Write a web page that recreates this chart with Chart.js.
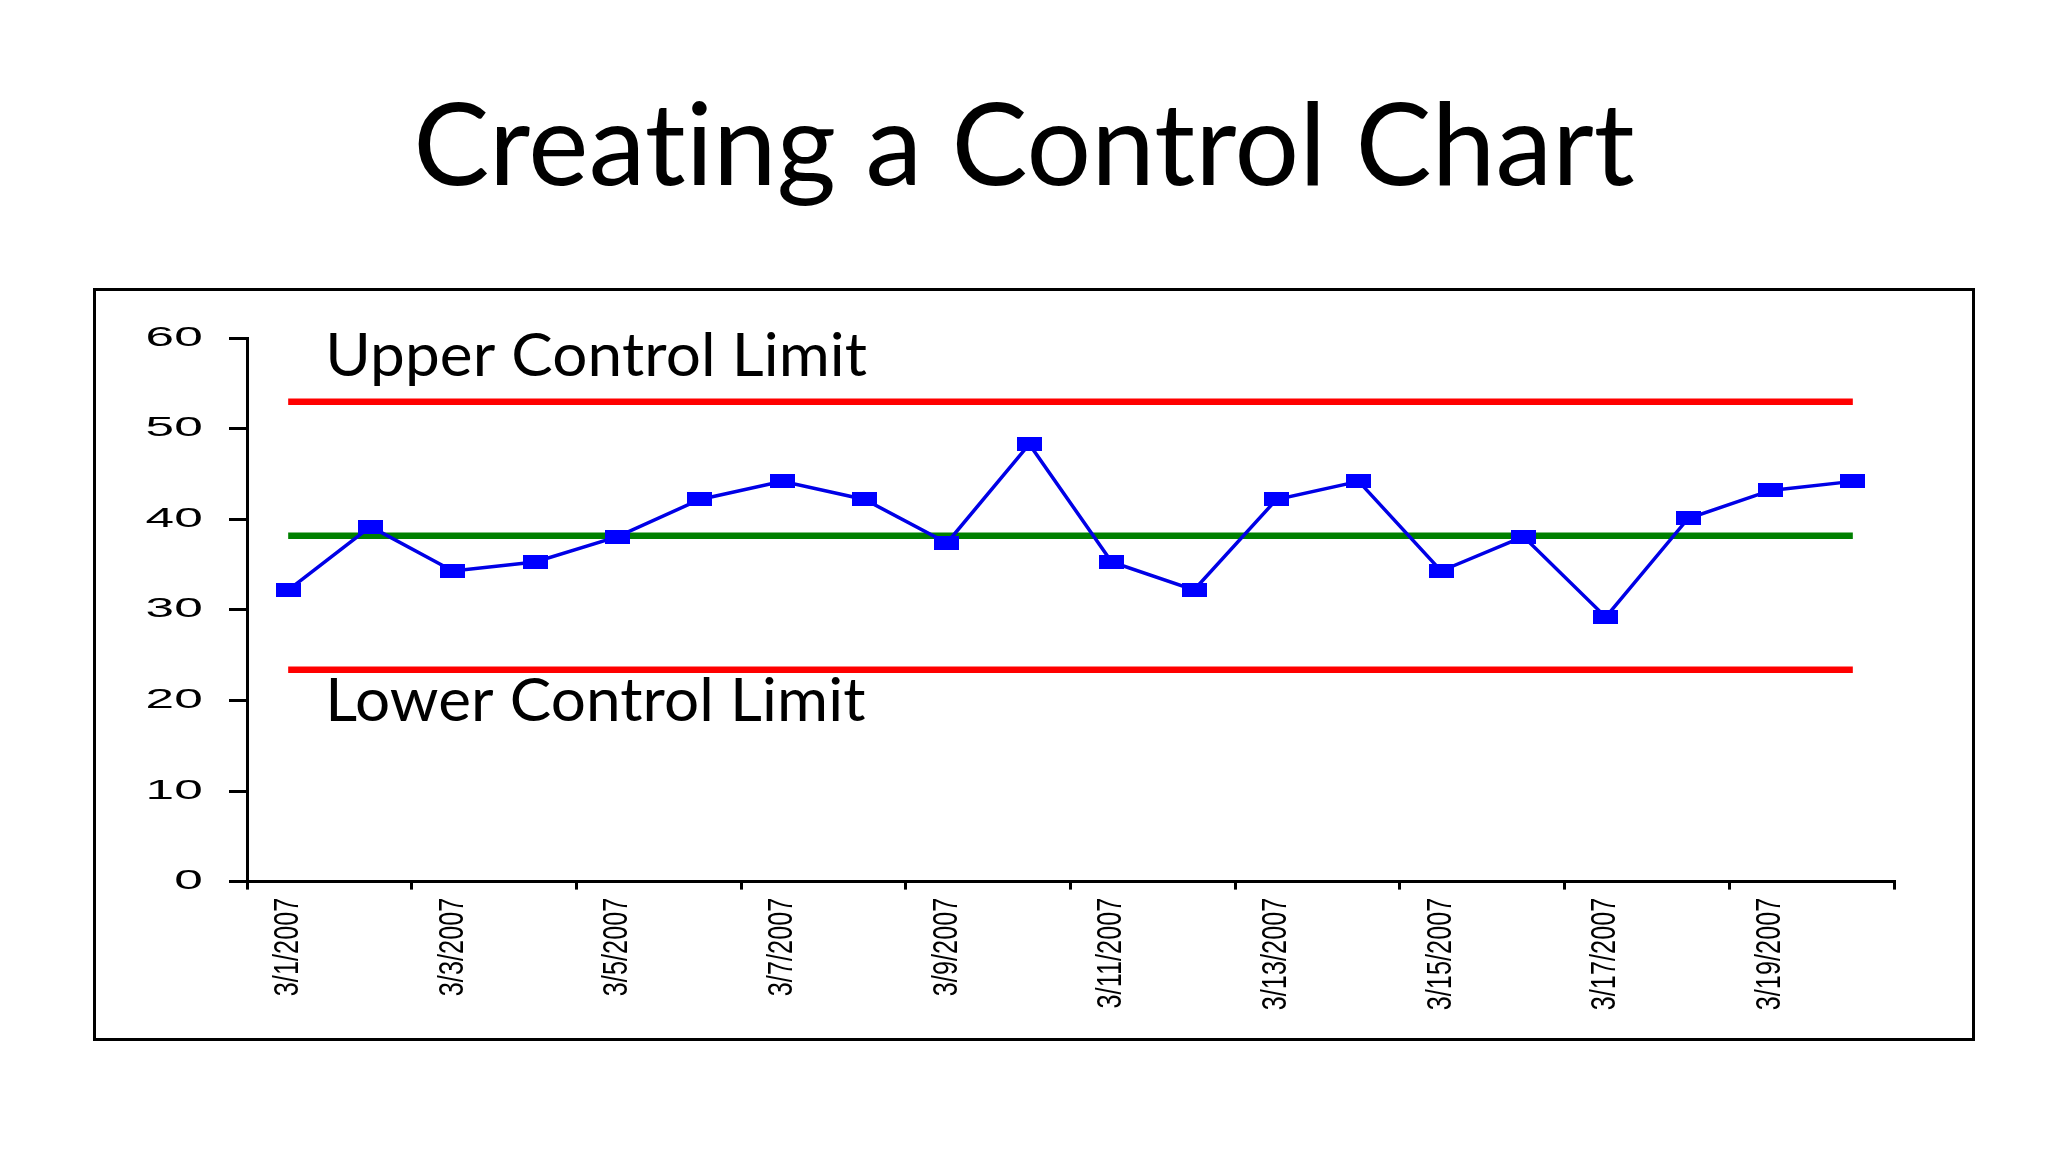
<!DOCTYPE html>
<html>
<head>
<meta charset="utf-8">
<script src="https://cdn.jsdelivr.net/npm/chart.js@4/dist/chart.umd.min.js"></script>
<style>
  html, body { margin: 0; padding: 0; background: #ffffff; }
  #wrap { position: relative; width: 2048px; height: 1152px; overflow: hidden; background: #ffffff; }
  #frame { position: absolute; left: 93px; top: 288px; width: 1876px; height: 747px; border: 3px solid #000; box-sizing: content-box; }
  #c { position: absolute; left: 0; top: 0; }
</style>
</head>
<body>
<div id="wrap">
  <div id="frame"></div>
  <canvas id="c" width="2048" height="1152"></canvas>
</div>
<script>
// ---- data ----
const titleText = 'Creating a Control Chart';
const categories = ['3/1/2007','3/2/2007','3/3/2007','3/4/2007','3/5/2007','3/6/2007','3/7/2007','3/8/2007','3/9/2007','3/10/2007',
                    '3/11/2007','3/12/2007','3/13/2007','3/14/2007','3/15/2007','3/16/2007','3/17/2007','3/18/2007','3/19/2007','3/20/2007'];
const measurements = [32.2, 39.2, 34.3, 35.3, 38.1, 42.2, 44.2, 42.2, 37.4, 48.3,
                      35.3, 32.2, 42.2, 44.2, 34.3, 38.1, 29.2, 40.1, 43.2, 44.2];
const upperControlLimit = 53.0;
const centerLine = 38.2;
const lowerControlLimit = 23.4;
const yMin = 0, yMax = 60, yStep = 10;
const limitLabels = ['Upper Control Limit', 'Lower Control Limit'];

// ---- styles ----
const Y_LABEL_STRETCH = 1.9;
const X_LABEL_CONDENSE = 0.72;
const LIMIT_LABEL_WIDTH = 542;

function markerCanvas(w, h, color) {
  const cv = document.createElement('canvas');
  cv.width = w; cv.height = h;
  const g = cv.getContext('2d');
  g.fillStyle = color;
  g.fillRect(0, 0, w, h);
  return cv;
}
const marker = markerCanvas(25, 14, '#0000ff');

const firstCat = categories[0];
const lastCat = categories[categories.length - 1];

const stretchLabels = {
  id: 'stretchLabels',
  beforeDraw(chart) {
    chart.ctx.letterSpacing = '0.1px';
  },
  afterLayout(chart) {
    const ys = chart.scales.y;
    if (ys && !ys.__stretched) {
      const orig = ys.drawLabels.bind(ys);
      ys.drawLabels = function (area) {
        const ctx = this.ctx;
        const x0 = this.right - this.options.grid.tickLength - this.options.ticks.padding;
        ctx.save();
        ctx.translate(x0, 0);
        ctx.scale(Y_LABEL_STRETCH, 1);
        ctx.translate(-x0, 0);
        orig(area);
        ctx.restore();
      };
      ys.__stretched = true;
    }
    const xs = chart.scales.x;
    if (xs && !xs.__stretched) {
      const origX = xs.drawLabels.bind(xs);
      xs.drawLabels = function (area) {
        const ctx = this.ctx;
        const y0 = this.top + this.options.grid.tickLength + this.options.ticks.padding;
        ctx.save();
        ctx.translate(0, y0);
        ctx.scale(1, X_LABEL_CONDENSE);
        ctx.translate(0, -y0);
        origX(area);
        ctx.restore();
      };
      xs.__stretched = true;
    }
  }
};

const limitText = {
  id: 'limitText',
  afterDraw(chart) {
    const ctx = chart.ctx;
    const xs = chart.scales.x, ys = chart.scales.y;
    const x0 = xs.getPixelForValue(0) + 37;
    ctx.save();
    ctx.font = '60px Lato';
    ctx.fillStyle = '#000';
    ctx.textBaseline = 'alphabetic';
    ctx.textAlign = 'left';
    const k = LIMIT_LABEL_WIDTH / ctx.measureText(limitLabels[0]).width;
    const items = [
      { text: limitLabels[0], y: ys.getPixelForValue(upperControlLimit) - 26 },
      { text: limitLabels[1], y: ys.getPixelForValue(lowerControlLimit) + 51 }
    ];
    items.forEach(it => {
      ctx.save();
      ctx.translate(x0, it.y);
      ctx.scale(k, 1);
      ctx.fillText(it.text, 0, 0);
      ctx.restore();
    });
    ctx.restore();
  }
};

new Chart(document.getElementById('c'), {
  type: 'line',
  data: {
    labels: categories,
    datasets: [
      {
        label: 'Measurement',
        data: measurements,
        borderColor: '#0000e6',
        backgroundColor: '#0000ff',
        borderWidth: 3.5,
        pointStyle: marker,
        pointRadius: 8,
        pointHoverRadius: 8,
        tension: 0,
        fill: false
      },
      {
        label: 'Center Line',
        data: [{ x: firstCat, y: centerLine }, { x: lastCat, y: centerLine }],
        borderColor: '#008000',
        borderWidth: 6.5,
        pointRadius: 0,
        borderCapStyle: 'butt',
        fill: false
      },
      {
        label: 'UCL',
        data: [{ x: firstCat, y: upperControlLimit }, { x: lastCat, y: upperControlLimit }],
        borderColor: '#ff0000',
        borderWidth: 6.5,
        pointRadius: 0,
        borderCapStyle: 'butt',
        fill: false
      },
      {
        label: 'LCL',
        data: [{ x: firstCat, y: lowerControlLimit }, { x: lastCat, y: lowerControlLimit }],
        borderColor: '#ff0000',
        borderWidth: 6.5,
        pointRadius: 0,
        borderCapStyle: 'butt',
        fill: false
      }
    ]
  },
  options: {
    responsive: false,
    devicePixelRatio: 1,
    animation: false,
    events: [],
    layout: { padding: { left: 154, right: 154, top: 0, bottom: 70.4 } },
    plugins: {
      legend: { display: false },
      tooltip: { enabled: false },
      title: {
        display: true,
        text: titleText,
        color: '#000',
        font: { family: 'Lato', size: 114, weight: 'normal', lineHeight: 1.2 },
        padding: { top: 80, bottom: 121.5 }
      }
    },
    scales: {
      x: {
        type: 'category',
        offset: true,
        afterFit(scale) { scale.height = 200; },
        grid: {
          offset: true,
          drawOnChartArea: false,
          drawTicks: true,
          tickLength: 8,
          lineWidth: 3,
          color: (c) => (c.index === undefined || c.index % 2 === 0) ? '#000' : 'rgba(0,0,0,0)'
        },
        border: { display: true, color: '#000', width: 3 },
        ticks: {
          autoSkip: false,
          maxRotation: 90,
          minRotation: 90,
          padding: 8,
          color: '#000',
          font: { family: "'Liberation Sans', Arial", size: 35 },
          callback: function (val, idx) { return idx % 2 === 0 ? this.getLabelForValue(val) : ''; }
        }
      },
      y: {
        min: yMin,
        max: yMax,
        afterFit(scale) { scale.width = 93; },
        grid: {
          drawOnChartArea: false,
          drawTicks: true,
          tickLength: 18,
          lineWidth: 3,
          color: '#000'
        },
        border: { display: true, color: '#000', width: 3 },
        ticks: {
          stepSize: yStep,
          padding: 26,
          color: '#000',
          font: { family: "'Liberation Sans', Arial", size: 27 }
        }
      }
    }
  },
  plugins: [stretchLabels, limitText]
});
</script>
</body>
</html>
